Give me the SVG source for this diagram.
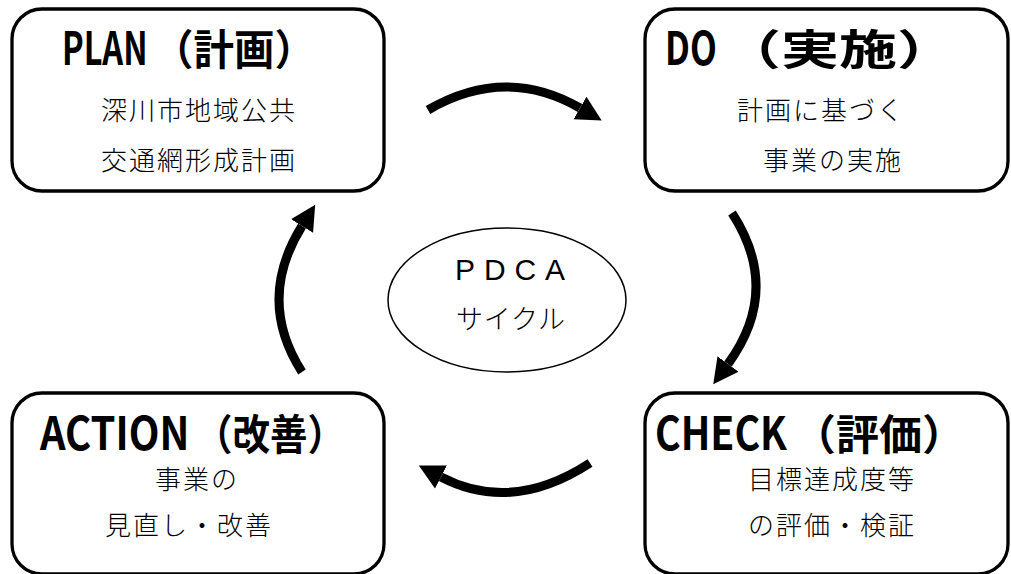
<svg xmlns="http://www.w3.org/2000/svg" width="1011" height="574" viewBox="0 0 1011 574">
<style>
.box{fill:#fff;stroke:#000;stroke-width:3.3}
.ttl{font-family:"Noto Sans CJK JP","Liberation Sans",sans-serif;font-weight:700;font-size:42px;fill:#000}
.lat{font-family:"Noto Sans CJK JP","Liberation Sans",sans-serif;font-weight:700;font-size:46px;fill:#000}
.sub{font-family:"Noto Sans CJK JP","Liberation Sans",sans-serif;font-weight:300;font-size:26px;letter-spacing:2px;fill:#000;text-anchor:middle}
.pd{font-family:"Liberation Sans",Arial,sans-serif;font-size:30px;fill:#000;text-anchor:middle}
.ctr{font-family:"Noto Sans CJK JP","Liberation Sans",sans-serif;font-weight:300;font-size:27px;letter-spacing:1px;fill:#000;text-anchor:middle}
.arr{fill:none;stroke:#000;stroke-width:9}
</style>
<defs>
<marker id="ah" markerUnits="userSpaceOnUse" markerWidth="30" markerHeight="30" refX="0" refY="0" viewBox="0 -15 30 30" orient="auto">
<path d="M0,-13 L25,0 L0,13 Z" fill="#000"/>
</marker>
</defs>
<rect width="1011" height="574" fill="#fff"/>
<g id="connectors">
<path class="arr" d="M428,110 Q505,65 580,108" marker-end="url(#ah)"/>
<path class="arr" d="M732,213 Q782,290 728,364" marker-end="url(#ah)"/>
<path class="arr" d="M590,463 Q512,514 441,477" marker-end="url(#ah)"/>
<path class="arr" d="M302,372 Q256,300 302,226" marker-end="url(#ah)"/>
</g>
<g id="center">
<ellipse cx="507" cy="300" rx="119" ry="72" fill="#fff" stroke="#000" stroke-width="1.5"/>
<text class="pd" x="510" y="280" textLength="110" lengthAdjust="spacing">PDCA</text>
<text class="ctr" x="511" y="329" textLength="110" lengthAdjust="spacing">サイクル</text>
</g>
<g id="plan">
<rect class="box" x="12" y="9" width="372" height="182" rx="30"/>
<text class="lat" transform="translate(62,65) scale(0.75,1)" x="0" y="0" textLength="114" lengthAdjust="spacingAndGlyphs">PLAN</text>
<text class="ttl" x="153" y="65" textLength="162" lengthAdjust="spacingAndGlyphs">（計画）</text>
<text class="sub" x="199" y="120">深川市地域公共</text>
<text class="sub" x="199" y="170">交通網形成計画</text>
</g>
<g id="do">
<rect class="box" x="645" y="9" width="363" height="182" rx="30"/>
<text class="lat" transform="translate(665,65) scale(0.75,1)" x="0" y="0" textLength="69" lengthAdjust="spacingAndGlyphs">DO</text>
<text class="ttl" x="723" y="65" textLength="232" lengthAdjust="spacingAndGlyphs">（実施）</text>
<text class="sub" x="821" y="120">計画に基づく</text>
<text class="sub" x="833" y="170">事業の実施</text>
</g>
<g id="action">
<rect class="box" x="12" y="393" width="372" height="181" rx="30"/>
<text class="lat" transform="translate(40,450) scale(0.75,1)" x="0" y="0" textLength="199" lengthAdjust="spacingAndGlyphs">ACTION</text>
<text class="ttl" x="195" y="450" textLength="150" lengthAdjust="spacingAndGlyphs">（改善）</text>
<text class="sub" x="197" y="489">事業の</text>
<text class="sub" x="189" y="535">見直し・改善</text>
</g>
<g id="check">
<rect class="box" x="645" y="393" width="363" height="181" rx="30"/>
<text class="lat" transform="translate(655,450) scale(0.75,1)" x="0" y="0" textLength="176" lengthAdjust="spacingAndGlyphs">CHECK</text>
<text class="ttl" x="793" y="450" textLength="172" lengthAdjust="spacingAndGlyphs">（評価）</text>
<text class="sub" x="832" y="489">目標達成度等</text>
<text class="sub" x="832" y="535">の評価・検証</text>
</g>
</svg>
